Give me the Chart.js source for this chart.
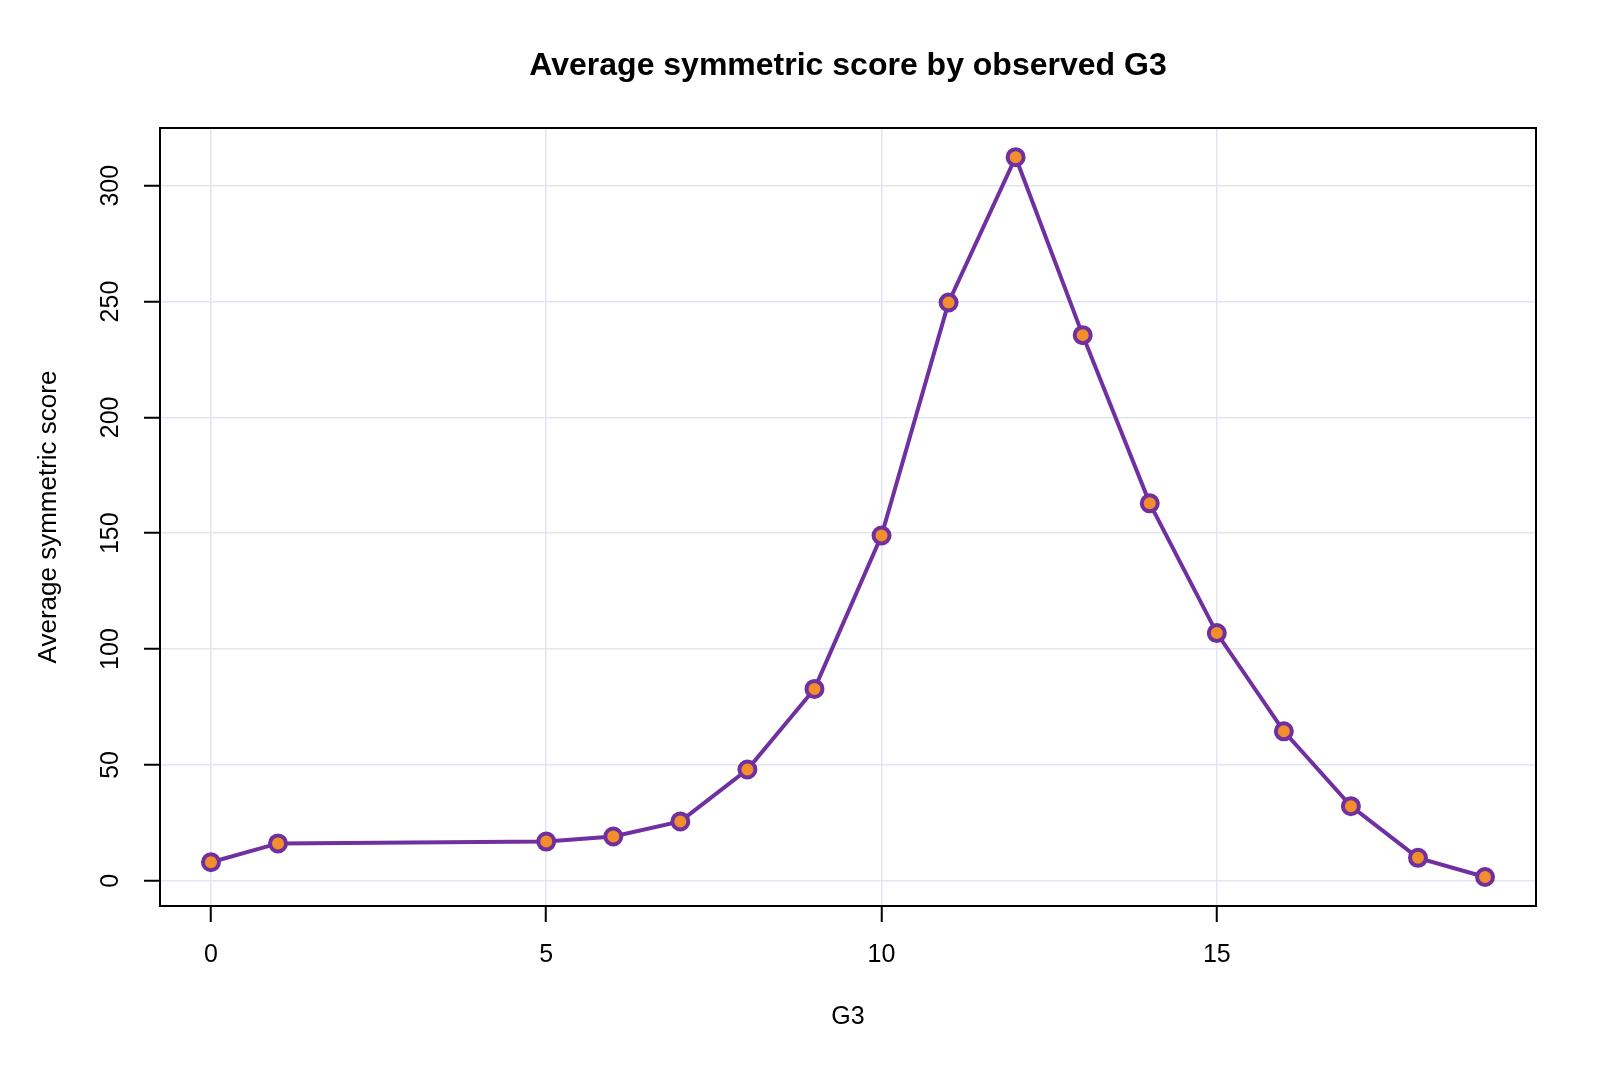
<!DOCTYPE html>
<html>
<head>
<meta charset="utf-8">
<script src="https://cdn.jsdelivr.net/npm/chart.js@4/dist/chart.umd.min.js"></script>
<style>
html,body{margin:0;padding:0;background:#fff;}
#wrap{width:1600px;height:1067px;}
</style>
</head>
<body>
<div id="wrap"><canvas id="c" width="1600" height="1067"></canvas></div>
<script>
const g3Values = [0, 1, 5, 6, 7, 8, 9, 10, 11, 12, 13, 14, 15, 16, 17, 18, 19];
const avgScore = [8.0, 16.1, 16.9, 19.1, 25.6, 48.0, 82.8, 149.0, 249.6, 312.3, 235.5, 162.9, 106.9, 64.5, 32.2, 9.9, 1.6];
const xTicks = [0, 5, 10, 15];
const yTicks = [0, 50, 100, 150, 200, 250, 300];
const titleText = 'Average symmetric score by observed G3';
const xTitle = 'G3';
const yTitle = 'Average symmetric score';

const FONT = '"Liberation Sans", Arial, Helvetica, sans-serif';

const boxPlugin = {
  id: 'box',
  afterDraw(chart) {
    const {ctx, chartArea: a} = chart;
    ctx.save();
    ctx.strokeStyle = '#000';
    ctx.lineWidth = 2;
    ctx.strokeRect(a.left, a.top, a.right - a.left, a.bottom - a.top);
    // main title centred over the plot region
    ctx.fillStyle = '#000';
    ctx.font = 'bold 32px ' + FONT;
    ctx.textAlign = 'center';
    ctx.textBaseline = 'middle';
    ctx.fillText(titleText, (a.left + a.right) / 2, 66);
    // y tick labels (rotated, R style)
    const ys = chart.scales.y;
    ctx.font = '25px ' + FONT;
    ys.ticks.forEach(t => {
      const py = ys.getPixelForValue(t.value);
      ctx.save();
      ctx.translate(111, py);
      ctx.rotate(-Math.PI / 2);
      ctx.fillText(String(t.value), 0, 0);
      ctx.restore();
    });
    ctx.restore();
  }
};

new Chart(document.getElementById('c'), {
  type: 'scatter',
  data: {
    datasets: [{
      data: g3Values.map((x, i) => ({x: x, y: avgScore[i]})),
      showLine: true,
      borderColor: '#7030A0',
      borderWidth: 4,
      pointRadius: 8,
      pointBorderWidth: 4,
      pointBackgroundColor: '#F28E2B',
      pointBorderColor: '#7030A0',
      pointHoverRadius: 8,
      tension: 0
    }]
  },
  options: {
    responsive: false,
    animation: false,
    devicePixelRatio: 1,
    layout: {padding: {left: 0, right: 64, top: 128, bottom: 0}},
    plugins: {
      legend: {display: false},
      tooltip: {enabled: false},
      title: {display: false}
    },
    scales: {
      x: {
        type: 'linear',
        min: -0.76,
        max: 19.76,
        afterBuildTicks: s => { s.ticks = xTicks.map(v => ({value: v})); },
        afterFit: s => { s.height = 161; },
        border: {display: false},
        grid: {color: '#E3E5F0', lineWidth: 1.5, tickColor: '#000', tickLength: 16, tickWidth: 2},
        ticks: {color: '#000', font: {family: FONT, size: 25}, padding: 18, maxRotation: 0},
        title: {display: true, text: xTitle, color: '#000', font: {family: FONT, size: 25, lineHeight: 1.2}, padding: {top: 0, bottom: 35}}
      },
      y: {
        type: 'linear',
        min: -10.9,
        max: 324.9,
        afterBuildTicks: s => { s.ticks = yTicks.map(v => ({value: v})); },
        afterFit: s => { s.width = 160; },
        border: {display: false},
        grid: {color: '#E3E5F0', lineWidth: 1.5, tickColor: '#000', tickLength: 16, tickWidth: 2},
        ticks: {display: false},
        title: {display: true, text: yTitle, color: '#000', font: {family: FONT, size: 26, lineHeight: 1.2}, padding: {top: 33, bottom: 0}}
      }
    }
  },
  plugins: [boxPlugin]
});
</script>
</body>
</html>
